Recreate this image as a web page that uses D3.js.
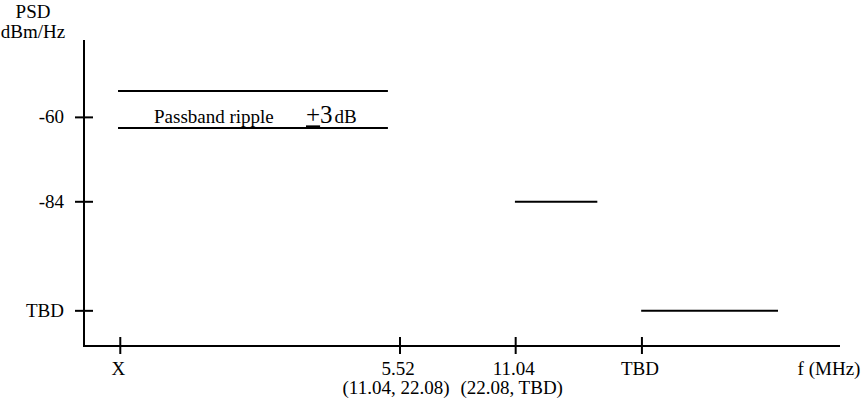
<!DOCTYPE html>
<html>
<head>
<meta charset="utf-8">
<script src="https://cdn.jsdelivr.net/npm/d3@7"></script>
<style>
  body { margin: 0; background: #fff; }
</style>
</head>
<body>
<svg id="chart" width="866" height="402"></svg>
<script>
// x positions are schematic (not to scale), in arbitrary units
const xTickPos = [4.8, 41.8, 57.1, 73.8];
const xTickLabels = [["X"], ["5.52", "(11.04, 22.08)"], ["11.04", "(22.08, TBD)"], ["TBD"]];

// psd levels in dBm/Hz (TBD drawn schematically near the bottom)
const yTickVals = [-60, -84, -115];
const yTickLabels = ["-60", "-84", "TBD"];

// horizontal mask segments: [x start, x end, level]
const segments = [
  [4.5, 40.2, -52.5],
  [4.5, 40.2, -63],
  [57, 67.9, -84],
  [73.7, 91.8, -115]
];

const serif = "'Liberation Serif', 'Times New Roman', 'DejaVu Serif', serif";

let svg = d3.select("#chart");

let canvas = {"left": 84, "right": 840, "top": 40, "bottom": 346};

let xScale = d3.scaleLinear()
  .domain([0, 100])
  .range([canvas.left, canvas.right]);

let yScale = d3.scaleLinear()
  .domain([-125, -38])
  .range([canvas.bottom, canvas.top]);

// axes lines
svg.append("line")
  .attr("x1", xScale(0)).attr("x2", xScale(0))
  .attr("y1", yScale(-38)).attr("y2", yScale(-125))
  .attr("stroke", "black").attr("stroke-width", 2);

svg.append("line")
  .attr("x1", xScale(0) - 1).attr("x2", xScale(100))
  .attr("y1", yScale(-125)).attr("y2", yScale(-125))
  .attr("stroke", "black").attr("stroke-width", 2);

// y ticks cross the axis
svg.selectAll(".ytick")
  .data(yTickVals)
  .join("line")
  .attr("class", "ytick")
  .attr("x1", xScale(0) - 9).attr("x2", xScale(0) + 9)
  .attr("y1", d => yScale(d)).attr("y2", d => yScale(d))
  .attr("stroke", "black").attr("stroke-width", 2);

svg.selectAll(".ylabel")
  .data(yTickVals)
  .join("text")
  .attr("class", "ylabel")
  .attr("x", xScale(0) - 20)
  .attr("y", d => yScale(d) + 6)
  .attr("text-anchor", "end")
  .attr("font-family", serif)
  .attr("font-size", 19)
  .text((d, i) => yTickLabels[i]);

// x ticks
svg.selectAll(".xtick")
  .data(xTickPos)
  .join("line")
  .attr("class", "xtick")
  .attr("x1", d => xScale(d)).attr("x2", d => xScale(d))
  .attr("y1", yScale(-125) - 9).attr("y2", yScale(-125) + 8)
  .attr("stroke", "black").attr("stroke-width", 2);

// two-line labels are written as separate text rows
let xLabelRows = [];
xTickPos.forEach((d, i) => {
  xTickLabels[i].forEach((s, j) => xLabelRows.push({pos: d, row: j, text: s}));
});

svg.selectAll(".xlabel")
  .data(xLabelRows)
  .join("text")
  .attr("class", "xlabel")
  .attr("x", d => xScale(d.pos) - (d.row > 0 ? 4 : 2))
  .attr("y", d => 375 + d.row * 19)
  .attr("text-anchor", "middle")
  .attr("font-family", serif)
  .attr("font-size", 19)
  .text(d => d.text);

svg.append("text")
  .attr("x", 829)
  .attr("y", 375)
  .attr("text-anchor", "middle")
  .attr("font-family", serif)
  .attr("font-size", 19)
  .text("f (MHz)");

// y axis title
svg.append("text")
  .attr("x", 33).attr("y", 18)
  .attr("text-anchor", "middle")
  .attr("font-family", serif)
  .attr("font-size", 19)
  .text("PSD");
svg.append("text")
  .attr("x", 33).attr("y", 38)
  .attr("text-anchor", "middle")
  .attr("font-family", serif)
  .attr("font-size", 19)
  .text("dBm/Hz");

// mask segments
svg.selectAll(".seg")
  .data(segments)
  .join("line")
  .attr("class", "seg")
  .attr("x1", d => xScale(d[0])).attr("x2", d => xScale(d[1]))
  .attr("y1", d => yScale(d[2])).attr("y2", d => yScale(d[2]))
  .attr("stroke", "black").attr("stroke-width", 2);

// ripple annotation
let note = svg.append("text")
  .attr("x", 154)
  .attr("y", yScale(-60) + 6)
  .attr("font-family", serif)
  .attr("font-size", 19);
note.append("tspan").text("Passband ripple");
note.append("tspan").attr("x", 306).attr("font-size", 25)
  .attr("text-decoration", "underline").text("+");
note.append("tspan").attr("font-size", 25).text("3");
note.append("tspan").attr("font-size", 19).attr("dx", 2).text("dB");
</script>
</body>
</html>
